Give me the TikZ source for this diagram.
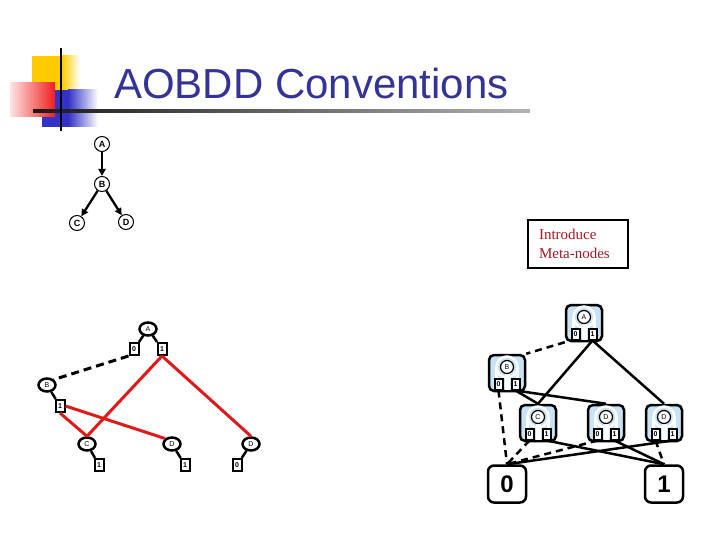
\documentclass[tikz,border=0pt]{standalone}
\usepackage{fontspec}
\setmainfont{Liberation Sans}
\newfontfamily\boxserif{Liberation Serif}
\usetikzlibrary{arrows.meta, positioning, shapes.geometric, calc}
\definecolor{titleblue}{RGB}{51, 51, 153}
\definecolor{notered}{RGB}{165, 25, 35}
\definecolor{linkred}{RGB}{225, 25, 25}
\definecolor{metablue}{RGB}{200, 226, 246}
\definecolor{logoyellow}{RGB}{255, 204, 0}
\definecolor{logoblue}{RGB}{50, 50, 200}
\definecolor{logored}{RGB}{240, 30, 30}

\tikzset{
  varnode/.style={circle, draw, line width=1pt, inner sep=0pt, minimum size=15pt, font=\fontsize{9}{9}\selectfont\bfseries},
  treearc/.style={line width=2.3pt, -{Triangle[length=7pt, width=7pt]}},
  ornode/.style={ellipse, draw, line width=2.5pt, fill=white, inner sep=0pt, minimum width=17pt, minimum height=13pt, font=\fontsize{7}{7}\selectfont},
  valbox/.style={rectangle, draw, line width=2pt, fill=white, inner sep=0pt, minimum width=9pt, minimum height=12pt, font=\fontsize{7}{7}\selectfont\bfseries},
  stub/.style={line width=2.5pt},
  zeroarc/.style={line width=3pt, dash pattern=on 8pt off 5pt},
  onearc/.style={line width=3pt, linkred},
  metazero/.style={line width=2.5pt, dash pattern=on 7pt off 5pt},
  metaone/.style={line width=2.5pt},
  terminal/.style={rectangle, draw, line width=2.5pt, rounded corners=6pt, fill=white, minimum width=38pt, minimum height=37pt, font=\fontsize{24}{24}\selectfont\bfseries},
  meta/.pic={
    \node[draw, line width=2.5pt, rounded corners=5pt, fill=metablue, minimum width=36pt, minimum height=36pt] (-box) at (0,0) {};
    \draw[white, line width=2.5pt] (0,-6) circle (10.5);
    \fill[white] (-11.8,-6) rectangle (-9.2,10);
    \fill[white] (9.2,-6) rectangle (11.8,10);
    \fill[white] (-2.5,-6) rectangle (2.5,16.5);
    \node[circle, draw, line width=1.2pt, fill=white, inner sep=0pt, minimum size=13pt, font=\fontsize{7}{7}\selectfont] (-var) at (0,-6) {#1};
    \node[valbox, minimum width=8pt, minimum height=11pt] (-zero) at (-8.5,11) {0};
    \node[valbox, minimum width=8pt, minimum height=11pt] (-one) at (8.5,11) {1};
  }
}

\begin{document}
\begin{tikzpicture}[x=1pt, y=-1pt]
  \useasboundingbox (0,0) rectangle (720,540);

  % logo
  \fill[logoyellow] (32,56) rectangle (62,90);
  \shade[left color=logoyellow, right color=white] (62,56) rectangle (80,90);
  \fill[logoblue] (42,90) rectangle (68,127);
  \shade[left color=logoblue, right color=white] (68,90) rectangle (98,127);
  \shade[left color=logored!12, right color=logored] (10,83) rectangle (55,117);
  \shade[left color=black!90, right color=black!30] (33,110) rectangle (530,113);
  \draw[line width=2.5pt] (61,48) -- (61,131);
  \node[anchor=base west, titleblue, font=\fontsize{42}{42}\selectfont, inner sep=0pt] (title) at (114,99) {AOBDD Conventions};

  % plain tree
  \node[varnode] (tA) at (102,144) {A};
  \node[varnode] (tB) at (102,184) {B};
  \node[varnode] (tC) at (77,223) {C};
  \node[varnode] (tD) at (126,222) {D};
  \draw[treearc] (tA) -- (tB);
  \draw[treearc] (tB) -- (tC);
  \draw[treearc] (tB) -- (tD);

  % note
  \node[draw, line width=2pt, minimum width=100pt, minimum height=48pt, text width=78pt, align=left, inner sep=0pt,
        font=\boxserif\fontsize{15}{19}\selectfont, text=notered] (note) at (578,244) {Introduce\\Meta-nodes};

  % AND/OR graph
  \node[ornode] (oA) at (148,329) {A};
  \node[valbox] (oA0) at (134,349) {0};
  \node[valbox] (oA1) at (162,349) {1};
  \node[ornode] (oB) at (47,385) {B};
  \node[valbox] (oB1) at (60,406) {1};
  \node[ornode] (oC) at (87,444) {C};
  \node[valbox] (oC1) at (99,465) {1};
  \node[ornode] (oD) at (172,444) {D};
  \node[valbox] (oD1) at (185,465) {1};
  \node[ornode] (oE) at (251,444) {D};
  \node[valbox] (oE0) at (237,465) {0};
  \draw[stub] (oA) -- (oA0);
  \draw[stub] (oA) -- (oA1);
  \draw[stub] (oB) -- (oB1);
  \draw[stub] (oC) -- (oC1);
  \draw[stub] (oD) -- (oD1);
  \draw[stub] (oE) -- (oE0);
  \draw[zeroarc] (oA0.south west) -- (oB.north east);
  \draw[onearc] (oA1.south) -- (oC.north);
  \draw[onearc] (oA1.south) -- (oE.north);
  \draw[onearc] (oB1.south) -- (oC.north);
  \draw[onearc] (oB1.east) -- (oD.north west);

  % meta-node graph
  \pic (mA) at (584,323) {meta=A};
  \pic (mB) at (507,373) {meta=B};
  \pic (mC) at (538,423) {meta=C};
  \pic (mD) at (606,423) {meta=D};
  \pic (mE) at (664,423) {meta=D};
  \node[terminal] (t0) at (507,484) {0};
  \node[terminal] (t1) at (664,484) {1};
  \draw[metazero] (mA-box.south west) -- (mB-box.north east);
  \draw[metaone] (mA-one.south) -- (mC-box.north);
  \draw[metaone] (mA-one.south) -- (mE-box.north);
  \draw[metaone] (mB-one.south) -- (mC-box.north);
  \draw[metaone] (mB-one.south) -- (mD-box.north);
  \draw[metazero] (mB-zero.south) -- (t0.north);
  \draw[metazero] (mC-zero.south) -- (t0.north);
  \draw[metaone] (mC-one.south) -- (t1.north);
  \draw[metazero] (mD-zero.south) -- (t0.north);
  \draw[metaone] (mD-one.south) -- (t1.north);
  \draw[metazero] (mE-zero.south) -- (t1.north);
  \draw[metaone] (mE-one.south) -- (t0.north);
\end{tikzpicture}
\end{document}
